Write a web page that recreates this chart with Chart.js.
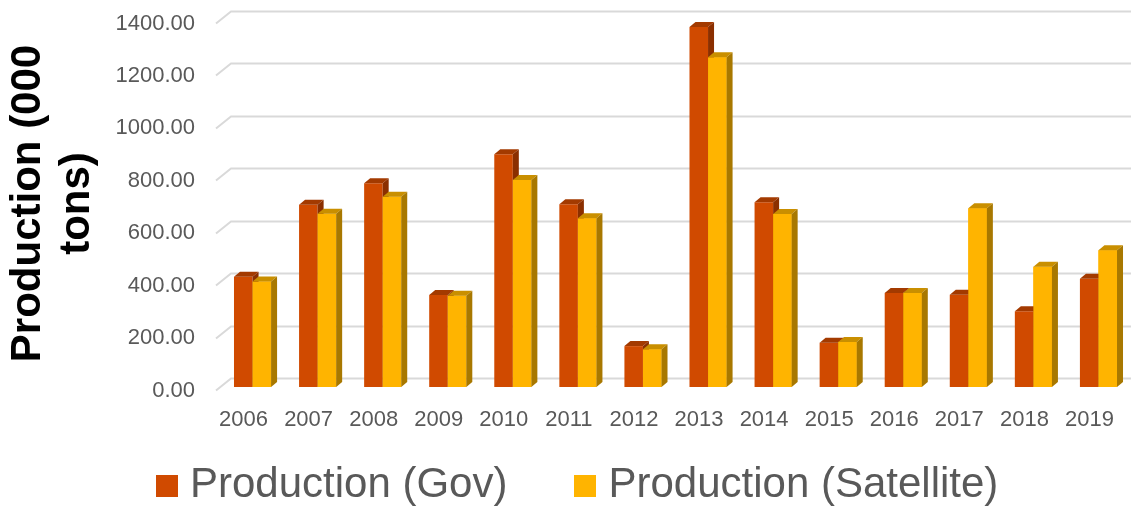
<!DOCTYPE html>
<html>
<head>
<meta charset="utf-8">
<script src="https://cdn.jsdelivr.net/npm/chart.js@4/dist/chart.umd.min.js"></script>
<style>
  body { margin: 0; background: #fff; }
  #wrap { position: relative; width: 1131px; height: 506px; }
  #legend { position: absolute; left: 156px; top: 462px; display: flex; align-items: center;
            font-family: "Liberation Sans", Arial, sans-serif; font-size: 42px; line-height: 42px; color: #595959; }
  #legend .item { display: flex; align-items: center; margin-right: 67px; }
  #legend .box { width: 22px; height: 22px; margin-right: 12px; position: relative; top: 3px; }
</style>
</head>
<body>
<div id="wrap">
  <canvas id="prodChart"></canvas>
  <div id="legend"></div>
</div>
<script>
const years = ['2006', '2007', '2008', '2009', '2010', '2011', '2012', '2013', '2014', '2015', '2016', '2017', '2018', '2019'];
const govProduction = [421, 695, 777, 351, 888, 697, 156, 1373, 705, 169, 359, 352, 289, 413];
const satelliteProduction = [402, 661, 726, 348, 790, 644, 144, 1258, 660, 172, 359, 682, 459, 522];
const seriesNames = ['Production (Gov)', 'Production (Satellite)'];
const yMin = 0, yMax = 1400, yStep = 200;

// front / top / side colours of the fake 3d columns
const faces = [
    { front: '#d04a00', top: '#a33a00', side: '#8b2f00' },
    { front: '#ffb400', top: '#c98f00', side: '#a87800' }
];
const depth = { dx: 6, dy: -5 };

Chart.defaults.font.family = '"Liberation Sans", Arial, sans-serif';

const gridPlugin = {
    id: 'wallGrid',
    beforeDatasetsDraw(chart) {
        const ctx = chart.ctx;
        const yScale = chart.scales.y;
        const left = chart.chartArea.left - 4;
        ctx.save();
        ctx.strokeStyle = '#d9d9d9';
        ctx.lineWidth = 2;
        yScale.ticks.forEach(t => {
            const yb = Math.round(yScale.getPixelForValue(t.value));
            ctx.beginPath();
            ctx.moveTo(left, yb + 3.5);
            ctx.lineTo(left + 15, yb - 8.5);
            ctx.lineTo(chart.width, yb - 8.5);
            ctx.stroke();
        });
        ctx.restore();
    }
};

function drawFaces(ctx, bar, c) {
    const { x, y, base, width } = bar.getProps(['x', 'y', 'base', 'width'], true);
    const l = x - width / 2, r = x + width / 2;
    ctx.fillStyle = c.top;
    ctx.beginPath();
    ctx.moveTo(l, y);
    ctx.lineTo(l + depth.dx, y + depth.dy);
    ctx.lineTo(r + depth.dx, y + depth.dy);
    ctx.lineTo(r, y);
    ctx.closePath();
    ctx.fill();
    ctx.fillStyle = c.side;
    ctx.beginPath();
    ctx.moveTo(r, y);
    ctx.lineTo(r + depth.dx, y + depth.dy);
    ctx.lineTo(r + depth.dx, base + depth.dy);
    ctx.lineTo(r, base);
    ctx.closePath();
    ctx.fill();
}

const columnPlugin = {
    id: 'columns3d',
    afterDatasetsDraw(chart) {
        const ctx = chart.ctx;
        const gov = chart.getDatasetMeta(0).data;
        const sat = chart.getDatasetMeta(1).data;
        ctx.save();
        for (let i = 0; i < gov.length; i++) {
            drawFaces(ctx, gov[i], faces[0]);
            sat[i].draw(ctx);   // satellite column sits in front of gov side face
            drawFaces(ctx, sat[i], faces[1]);
        }
        ctx.restore();
    }
};

const chart = new Chart(document.getElementById('prodChart'), {
    type: 'bar',
    data: {
        labels: years,
        datasets: [{
            label: seriesNames[0],
            data: govProduction,
            backgroundColor: faces[0].front,
            borderWidth: 0,
            categoryPercentage: 0.57,
            barPercentage: 1.0
        }, {
            label: seriesNames[1],
            data: satelliteProduction,
            backgroundColor: faces[1].front,
            borderWidth: 0,
            categoryPercentage: 0.57,
            barPercentage: 1.0
        }]
    },
    options: {
        responsive: true,
        maintainAspectRatio: false,
        animation: false,
        layout: { padding: { top: 20, right: 0, bottom: 0, left: 0 } },
        scales: {
            x: {
                grid: { display: false, drawTicks: false },
                border: { display: false },
                ticks: { color: '#595959', font: { size: 22 }, padding: 20, labelOffset: -9, maxRotation: 0 },
                afterFit(scale) { scale.height = 119; scale.paddingLeft = 0; scale.paddingRight = 0; }
            },
            y: {
                min: yMin,
                max: yMax,
                grid: { display: false, drawTicks: false },
                border: { display: false },
                ticks: {
                    stepSize: yStep,
                    color: '#595959',
                    font: { size: 22 },
                    padding: 25,
                    labelOffset: 3.5,
                    callback: v => Number(v).toFixed(2)
                },
                title: {
                    display: true,
                    text: ['Production (000', 'tons)'],
                    color: '#000',
                    font: { size: 42, weight: 'bold', lineHeight: 1.17 },
                    padding: { top: 4, bottom: 0 }
                },
                afterFit(scale) { scale.width = 220; scale.paddingTop = 0; scale.paddingBottom = 0; }
            }
        },
        plugins: {
            legend: { display: false },
            tooltip: { enabled: false }
        }
    },
    plugins: [gridPlugin, columnPlugin]
});

// html legend under the plot
const legendEl = document.getElementById('legend');
chart.data.datasets.forEach(ds => {
    const item = document.createElement('div');
    item.className = 'item';
    const box = document.createElement('span');
    box.className = 'box';
    box.style.background = ds.backgroundColor;
    const txt = document.createElement('span');
    txt.textContent = ds.label;
    item.appendChild(box);
    item.appendChild(txt);
    legendEl.appendChild(item);
});
</script>
</body>
</html>
